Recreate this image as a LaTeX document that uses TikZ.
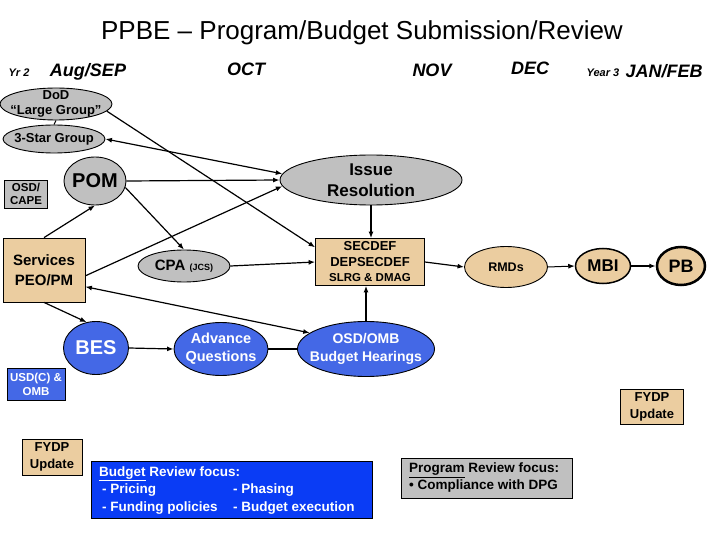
\documentclass[tikz,border=0pt]{standalone}
\usepackage{fontspec}
\setmainfont{Liberation Sans}
\usetikzlibrary{arrows.meta,shapes.geometric}
\definecolor{greyfill}{HTML}{C0C0C0}
\definecolor{tanfill}{HTML}{EBCDA0}
\definecolor{blueel}{HTML}{4468E6}
\definecolor{bluebox}{HTML}{0A3CF5}
\newcommand{\fs}[2]{\fontsize{#1}{#2}\selectfont}
\tikzset{
  el/.style={ellipse, draw=black, line width=0.9pt, inner sep=0pt},
  bx/.style={rectangle, draw=black, line width=0.8pt, inner sep=0pt},
  txt/.style={align=center, font=\bfseries, inner sep=0pt},
  hd/.style={font=\bfseries\itshape\fs{18}{20}, inner sep=0pt},
  sm/.style={font=\bfseries\itshape\fs{11}{12}, inner sep=0pt},
  arr/.style={line width=1.2pt, -{Latex[length=6.5pt,width=5pt]}},
  darr/.style={line width=1.2pt, {Latex[length=6.5pt,width=5pt]}-{Latex[length=6.5pt,width=5pt]}},
  plain/.style={line width=1.2pt}
}
\begin{document}
\begin{tikzpicture}[x=1pt,y=-1pt]
\useasboundingbox[fill=white] (0,0) rectangle (720,540);

% title and month headers
\node[inner sep=0pt, font=\fs{26}{29}] (title) at (362,33) {PPBE – Program/Budget Submission/Review};
\node[sm] (yr2) at (19,73) {Yr 2};
\node[hd] (aug) at (88,72) {Aug/SEP};
\node[hd] (oct) at (246,69) {OCT};
\node[hd] (nov) at (432,70) {NOV};
\node[hd] (dec) at (530,68) {DEC};
\node[sm] (yr3) at (603,73) {Year 3};
\node[hd] (jan) at (664,71) {JAN/FEB};

% shapes
\node[el, fill=greyfill, minimum width=112pt, minimum height=32pt] (dod) at (56,104) {};
\node[txt, font=\bfseries\fs{13}{15}] (dodt) at (dod) {DoD\\“Large Group”};
\node[el, fill=greyfill, minimum width=102pt, minimum height=28pt] (threestar) at (54,139) {};
\node[txt, font=\bfseries\fs{13}{15}] (threestart) at (threestar) {3-Star Group};
\node[bx, fill=greyfill, minimum width=43pt, minimum height=28pt] (cape) at (26,194) {};
\node[txt, font=\bfseries\fs{11.5}{13.5}] (capet) at (cape) {OSD/\\CAPE};
\node[el, fill=greyfill, minimum width=62pt, minimum height=48pt] (pom) at (95,181) {};
\node[txt, font=\bfseries\fs{20}{22}] (pomt) at (pom) {POM};
\node[bx, fill=tanfill, minimum width=82pt, minimum height=64pt] (services) at (44,270) {};
\node[txt, font=\bfseries\fs{15}{20}] (servicest) at (services) {Services\\PEO/PM};
\node[el, fill=greyfill, minimum width=92pt, minimum height=32pt] (cpa) at (184,266) {};
\node[txt, font=\bfseries\fs{15}{17}] (cpat) at (cpa) {CPA {\fs{9}{10}(JCS)}};
\node[el, fill=greyfill, minimum width=182pt, minimum height=50pt] (issue) at (371,180) {};
\node[txt, font=\bfseries\fs{17}{21}] (issuet) at (issue) {Issue\\Resolution};
\node[bx, fill=tanfill, minimum width=109pt, minimum height=47pt] (secdef) at (370,262) {};
\node[txt, font=\bfseries\fs{13}{15.5}] (secdeft) at (secdef) {SECDEF\\DEPSECDEF\\{\fs{11.5}{15.5}SLRG \& DMAG}};
\node[el, fill=tanfill, minimum width=83pt, minimum height=41pt] (rmds) at (506,267) {};
\node[txt, font=\bfseries\fs{12.5}{14}] (rmdst) at (rmds) {RMDs};
\node[el, fill=tanfill, line width=1.5pt, minimum width=55pt, minimum height=35pt] (mbi) at (603,266) {};
\node[txt, font=\bfseries\fs{17}{19}] (mbit) at (mbi) {MBI};
\node[el, fill=tanfill, line width=2.5pt, minimum width=48pt, minimum height=38pt] (pb) at (681,266) {};
\node[txt, font=\bfseries\fs{18}{20}] (pbt) at (pb) {PB};
\node[el, fill=blueel, minimum width=65pt, minimum height=53pt] (bes) at (96,348) {};
\node[txt, text=white, font=\bfseries\fs{20}{22}] (best) at (bes) {BES};
\node[el, fill=blueel, minimum width=94pt, minimum height=53pt] (advq) at (221,349) {};
\node[txt, text=white, font=\bfseries\fs{14.5}{18}] (advqt) at (advq) {Advance\\Questions};
\node[el, fill=blueel, minimum width=137pt, minimum height=55pt] (osdomb) at (366,349) {};
\node[txt, text=white, font=\bfseries\fs{14}{18}] (osdombt) at (osdomb) {OSD/OMB\\Budget Hearings};
\node[bx, fill=blueel, minimum width=58pt, minimum height=32pt] (usd) at (36,384) {};
\node[txt, text=white, font=\bfseries\fs{11.5}{14}] (usdt) at (usd) {USD(C) \&\\OMB};
\node[bx, fill=tanfill, minimum width=63pt, minimum height=35pt] (fydpr) at (652,407) {};
\node[txt, font=\bfseries\fs{13}{16.5}] (fydprt) at (fydpr) {FYDP\\Update};
\node[bx, fill=tanfill, minimum width=60pt, minimum height=36pt] (fydpl) at (52,457) {};
\node[txt, font=\bfseries\fs{13}{16.5}] (fydplt) at (fydpl) {FYDP\\Update};
\node[bx, fill=bluebox, minimum width=281pt, minimum height=57pt] (budget) at (232,490) {};
\node[anchor=west, inner sep=0pt, text=white, font=\bfseries\fs{13.5}{17.5}] (budgett) at (99,490) {%
\begin{tabular}{@{}l@{}l@{}}
\multicolumn{2}{@{}l@{}}{\underline{Budget} Review focus:}\\
\makebox[134pt][l]{\hspace{3pt}- Pricing} & - Phasing\\
\makebox[134pt][l]{\hspace{3pt}- Funding policies} & - Budget execution
\end{tabular}};
\node[bx, fill=greyfill, minimum width=171pt, minimum height=40pt] (program) at (487,478) {};
\node[anchor=west, inner sep=0pt, font=\bfseries\fs{13.5}{17}] (programt) at (409,478) {%
\begin{tabular}{@{}l@{}}
\underline{Program} Review focus:\\
• Compliance with DPG
\end{tabular}};

% connectors
\draw[plain, line width=1pt] (dod.south) -- (threestar.north);
\draw[arr] (dod.-8) -- (secdef.165);
\draw[darr] (threestar.east) -- (issue.176);
\draw[arr] (pom.east) -- (issue.west);
\draw[arr] (pom.-12) -- (cpa.north);
\draw[arr] (services.north) -- (pom.south);
\draw[arr] (services.-8) -- (issue.184);
\draw[arr] (cpa.east) -- (secdef.west);
\draw[arr] (issue.south) -- (issue.south |- secdef.north);
\draw[arr] (osdomb.north) -- (osdomb.north |- secdef.south);
\draw[darr] (services.-22.5) -- (osdomb.164);
\draw[arr] (services.south) -- (bes.110);
\draw[arr] (bes.east) -- (advq.west);
\draw[plain] (advq.east) -- (osdomb.west);
\draw[arr] (secdef.east) -- (rmds.west);
\draw[arr, line width=1pt] (rmds.east) -- (mbi.west);
\draw[arr, line width=2pt] (mbi.east) -- (pb.west);
\end{tikzpicture}
\end{document}
